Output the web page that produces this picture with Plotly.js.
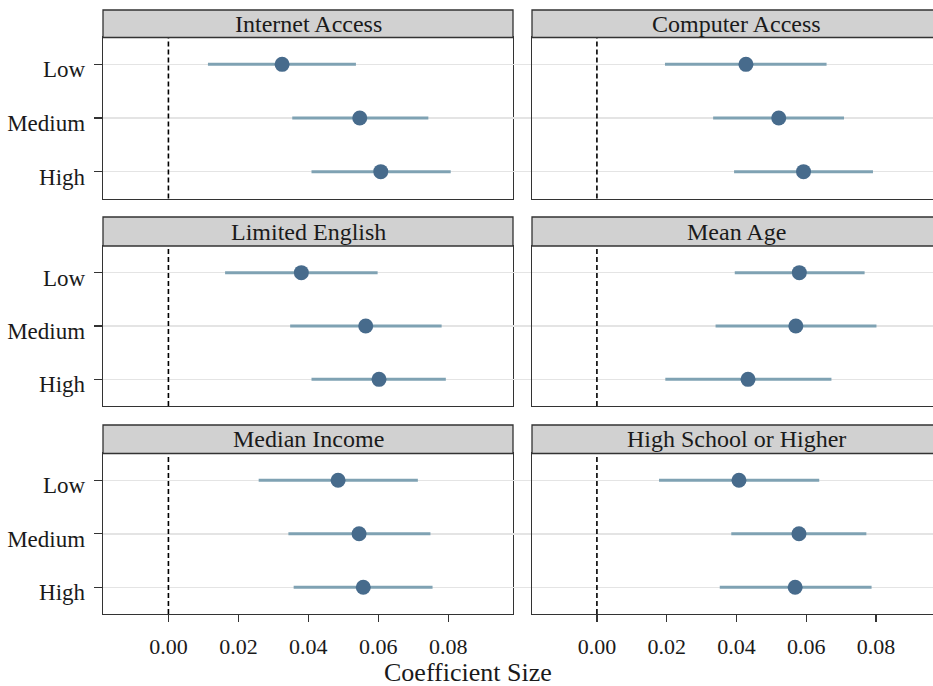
<!DOCTYPE html>
<html>
<head>
<meta charset="utf-8">
<script src="https://cdn.plot.ly/plotly-3.0.1.min.js"></script>
<style>
html,body{margin:0;padding:0;background:#fff;}
#chart{width:933px;height:686px;}
#chart text{font-family:"Liberation Serif",serif !important;}
</style>
</head>
<body>
<div id="chart"></div>
<script>
// ---- data ----
const categories = ["Low", "Medium", "High"];
const panelTitles = ["Internet Access", "Computer Access", "Limited English", "Mean Age", "Median Income", "High School or Higher"];
const xTickVals = [0, 0.02, 0.04, 0.06, 0.08];
const xTickText = ["0.00", "0.02", "0.04", "0.06", "0.08"];
const referenceValue = 0;

const internetEst = [0.0325, 0.0547, 0.0607];
const internetLo  = [0.0113, 0.0354, 0.0409];
const internetHi  = [0.0536, 0.0743, 0.0807];

const computerEst = [0.0427, 0.0521, 0.0592];
const computerLo  = [0.0195, 0.0333, 0.0393];
const computerHi  = [0.0658, 0.0708, 0.0791];

const englishEst = [0.0380, 0.0564, 0.0602];
const englishLo  = [0.0162, 0.0348, 0.0409];
const englishHi  = [0.0598, 0.0781, 0.0793];

const ageEst = [0.0580, 0.0570, 0.0433];
const ageLo  = [0.0395, 0.0340, 0.0196];
const ageHi  = [0.0767, 0.0801, 0.0672];

const incomeEst = [0.0485, 0.0545, 0.0557];
const incomeLo  = [0.0258, 0.0343, 0.0358];
const incomeHi  = [0.0713, 0.0749, 0.0755];

const schoolEst = [0.0407, 0.0579, 0.0568];
const schoolLo  = [0.0178, 0.0385, 0.0352];
const schoolHi  = [0.0637, 0.0772, 0.0787];

const panels = [
  [internetEst, internetLo, internetHi],
  [computerEst, computerLo, computerHi],
  [englishEst, englishLo, englishHi],
  [ageEst, ageLo, ageHi],
  [incomeEst, incomeLo, incomeHi],
  [schoolEst, schoolLo, schoolHi]
];

// ---- styling / layout ----
const W = 933, H = 686;
const M = {l: 103, r: 0, t: 10, b: 72};
const pw = W - M.l - M.r, ph = H - M.t - M.b;
const px = v => (v - M.l) / pw;          // pixel -> paper x
const py = v => (H - M.b - v) / ph;      // pixel -> paper y

const colX = [[px(103), px(513)], [px(532), 1]];
const rowStrip = [[10, 37.5], [217, 246], [425, 453.5]];
const rowPlot = [[37.5, 198.5], [246, 406], [453.5, 614]];
const xRanges = [[-0.0187, 0.0985], [-0.0186, 0.0963]];

const FONT = "Liberation Serif";
const ptColor = "#476b8c";
const ciColor = "#7fa2b3";
const lineColor = "#333333";
const gridColor = "#e4e4e4";
const textColor = "#1a1a1a";

const traces = [];
const layout = {
  width: W, height: H,
  margin: M,
  paper_bgcolor: "#fff",
  plot_bgcolor: "#fff",
  showlegend: false,
  font: {family: FONT},
  shapes: [],
  annotations: []
};

panels.forEach((p, i) => {
  const row = Math.floor(i / 2), col = i % 2;
  const n = i + 1;
  const xa = "xaxis" + (n === 1 ? "" : n), ya = "yaxis" + (n === 1 ? "" : n);
  const xr = "x" + (n === 1 ? "" : n), yr = "y" + (n === 1 ? "" : n);
  const [est, lo, hi] = p;

  traces.push({
    type: "scatter", mode: "markers",
    x: est, y: categories,
    xaxis: xr, yaxis: yr,
    marker: {size: 15, color: ptColor, line: {width: 0}},
    error_x: {
      type: "data", symmetric: false,
      array: est.map((e, k) => hi[k] - e),
      arrayminus: est.map((e, k) => e - lo[k]),
      color: ciColor, thickness: 3, width: 0
    },
    hoverinfo: "x+y"
  });

  layout[xa] = {
    domain: colX[col],
    anchor: yr,
    range: xRanges[col],
    tickvals: xTickVals, ticktext: xTickText,
    showticklabels: row === 2,
    ticks: row === 2 ? "outside" : "",
    ticklen: 7, tickwidth: 1.3, tickcolor: lineColor,
    ticklabelstandoff: 5,
    showgrid: false, zeroline: false,
    showline: true, linecolor: lineColor, linewidth: 1.3,
    mirror: true,
    tickfont: {family: FONT, size: 22, color: textColor}
  };
  layout[ya] = {
    domain: [py(rowPlot[row][1]), py(rowPlot[row][0])],
    anchor: xr,
    type: "category",
    categoryorder: "array", categoryarray: categories,
    range: [2.5, -0.5],
    showticklabels: col === 0,
    ticks: "outside",
    ticklen: col === 0 ? 8 : 19,
    tickwidth: col === 0 ? 1.3 : 1.5,
    tickcolor: col === 0 ? lineColor : gridColor,
    showgrid: true, gridcolor: gridColor, gridwidth: 1.5,
    zeroline: false,
    showline: true, linecolor: lineColor, linewidth: 1.3,
    mirror: col === 0,
    ticklabelstandoff: 4,
    ticklabelshift: -5,
    tickfont: {family: FONT, size: 23, color: textColor}
  };

  // reference line at zero
  layout.shapes.push({
    type: "line", xref: xr, yref: yr + " domain",
    x0: referenceValue, x1: referenceValue, y0: 0, y1: 1,
    line: {color: "#000", width: 1.6, dash: "5px,3px"}
  });

  // strip header
  layout.shapes.push({
    type: "rect", xref: "paper", yref: "paper",
    x0: colX[col][0], x1: col === 0 ? colX[col][1] : 1.03,
    y0: py(rowStrip[row][1]), y1: py(rowStrip[row][0]),
    fillcolor: "#d1d1d1",
    line: {color: lineColor, width: 1.3},
    layer: "above"
  });
  const cx = col === 0 ? (colX[0][0] + colX[0][1]) / 2 : px((532 + 941) / 2);
  layout.annotations.push({
    xref: "paper", yref: "paper",
    x: cx, y: py((rowStrip[row][0] + rowStrip[row][1]) / 2),
    xanchor: "center", yanchor: "middle",
    text: panelTitles[i], showarrow: false,
    font: {family: FONT, size: 24, color: textColor}
  });
});

layout.annotations.push({
  xref: "paper", yref: "paper",
  x: px(468), y: py(673),
  xanchor: "center", yanchor: "middle",
  text: "Coefficient Size", showarrow: false,
  font: {family: FONT, size: 26, color: textColor}
});

Plotly.newPlot("chart", traces, layout, {displayModeBar: false, staticPlot: true});
</script>
</body>
</html>
